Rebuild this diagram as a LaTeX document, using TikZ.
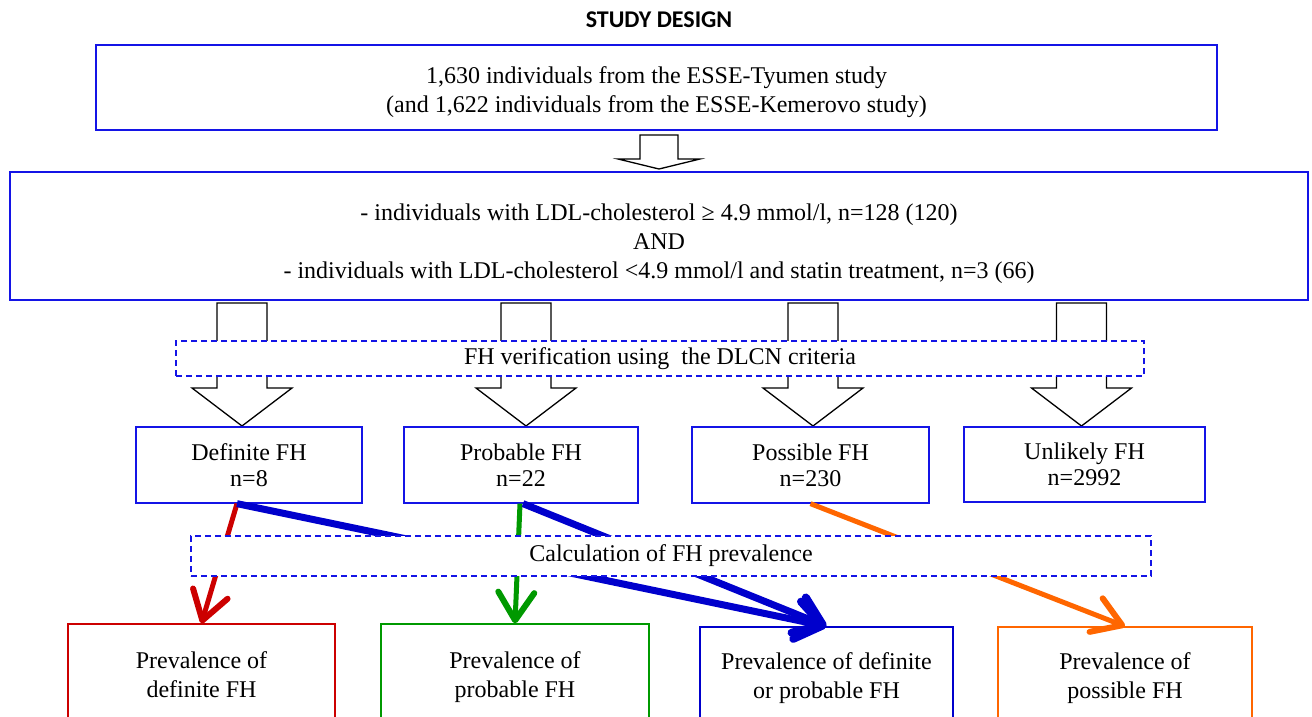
\documentclass[tikz,border=0pt]{standalone}
\usepackage{fontspec}
\setmainfont{Liberation Serif}
\newfontfamily\titlefont{Carlito}
\usetikzlibrary{arrows.meta}
\definecolor{frameblue}{RGB}{20,20,230}
\definecolor{defred}{RGB}{204,0,0}
\definecolor{probgreen}{RGB}{0,153,0}
\definecolor{dpblue}{RGB}{0,0,204}
\definecolor{posorange}{RGB}{255,102,0}

% hollow block arrow: centre x, top y, shaft half width, head half width, head start y, tip y
\newcommand{\fatarrow}[6]{%
  \draw[line width=1.3pt, fill=white]
    (#1-#3,#2) -- (#1+#3,#2) -- (#1+#3,#5) -- (#1+#4,#5) -- (#1,#6)
    -- (#1-#4,#5) -- (#1-#3,#5) -- cycle;}

\begin{document}
\begin{tikzpicture}[
        x=1pt, y=-1pt,
        box/.style={draw=frameblue, line width=1.3pt, align=center, inner sep=0pt,
          font=\fontsize{24}{29}\selectfont},
        dbox/.style={box, dashed, dash pattern=on 6pt off 4pt, fill=white},
        cat/.style={box, minimum height=76pt, font=\fontsize{24}{26}\selectfont},
        res/.style={box, line width=1.3pt, minimum height=102pt},
        fat/.style={line width=5pt, -{Straight Barb[length=28pt, width=36pt, line width=6pt 0, round]}},
        fatter/.style={line width=7pt, -{Straight Barb[length=26pt, width=38pt, line width=8pt 0, round]}},
      ]
      \useasboundingbox (0,0) rectangle (1312,717);
      \clip (0,0) rectangle (1312,717);
      \node[font=\titlefont\bfseries\fontsize{24}{28}\selectfont] (title) at (659,20) {STUDY DESIGN};
      \node[box, line width=1.8pt, minimum width=1121pt, minimum height=85pt] (pop) at (656.5,87.5)
        {\rule{0pt}{27pt}1,630 individuals from the ESSE-Tyumen study\\(and 1,622 individuals from the ESSE-Kemerovo study)};
      \node[box, line width=1.8pt, minimum width=1298pt, minimum height=128pt] (crit) at (659,236)
        {\rule{0pt}{33pt}- individuals with LDL-cholesterol ≥ 4.9 mmol/l, n=128 (120)\\AND\\- individuals with LDL-cholesterol <4.9 mmol/l and statin treatment, n=3 (66)};
      \fatarrow{659}{135}{19}{41}{159}{169}
      % four block arrows down to the DLCN groups
      \fatarrow{242}{303}{25}{50}{388}{426}
      \fatarrow{526}{303}{25}{50}{388}{426}
      \fatarrow{813}{303}{25}{50}{388}{426}
      \fatarrow{1081.5}{303}{25}{50}{388}{426}
      \node[dbox, minimum width=968pt, minimum height=35pt] (verify) at (660,358.5)
        {FH verification using \ the DLCN criteria};
      \node[cat, minimum width=226pt] (def) at (249,465) {Definite FH\\n=8};
      \node[cat, minimum width=234pt] (prob) at (521,465) {Probable FH\\n=22};
      \node[cat, minimum width=237pt] (poss) at (810.5,465) {Possible FH\\n=230};
      \node[cat, minimum width=241pt, minimum height=75pt] (unl) at (1084.5,464.5) {Unlikely FH\\n=2992};
      \node[res, draw=defred, minimum width=267pt] (pdef) at (201.5,675) {Prevalence of\\definite FH};
      \node[res, draw=probgreen, minimum width=268pt, minimum height=106pt] (pprob) at (515,677) {Prevalence of\\probable FH};
      \node[res, draw=dpblue, minimum width=253pt] (pdp) at (826.5,678) {Prevalence of definite\\or probable FH};
      \node[res, draw=posorange, minimum width=254pt] (pposs) at (1125,678) {Prevalence of\\possible FH};
      \draw[fat, defred] ([xshift=-12pt]def.south) -- (pdef.north);
      \draw[fat, probgreen] ([xshift=-1pt]prob.south) -- (pprob.north);
      \draw[fatter, dpblue] ([xshift=-12pt]def.south) -- (pdp.north);
      \draw[fatter, dpblue] ([xshift=2pt]prob.south) -- (pdp.north);
      \draw[fat, posorange] (poss.south) -- (pposs.north);
      \node[dbox, minimum width=960pt, minimum height=40pt] (calc) at (671,556)
        {Calculation of FH prevalence};
    \end{tikzpicture}
\end{document}
